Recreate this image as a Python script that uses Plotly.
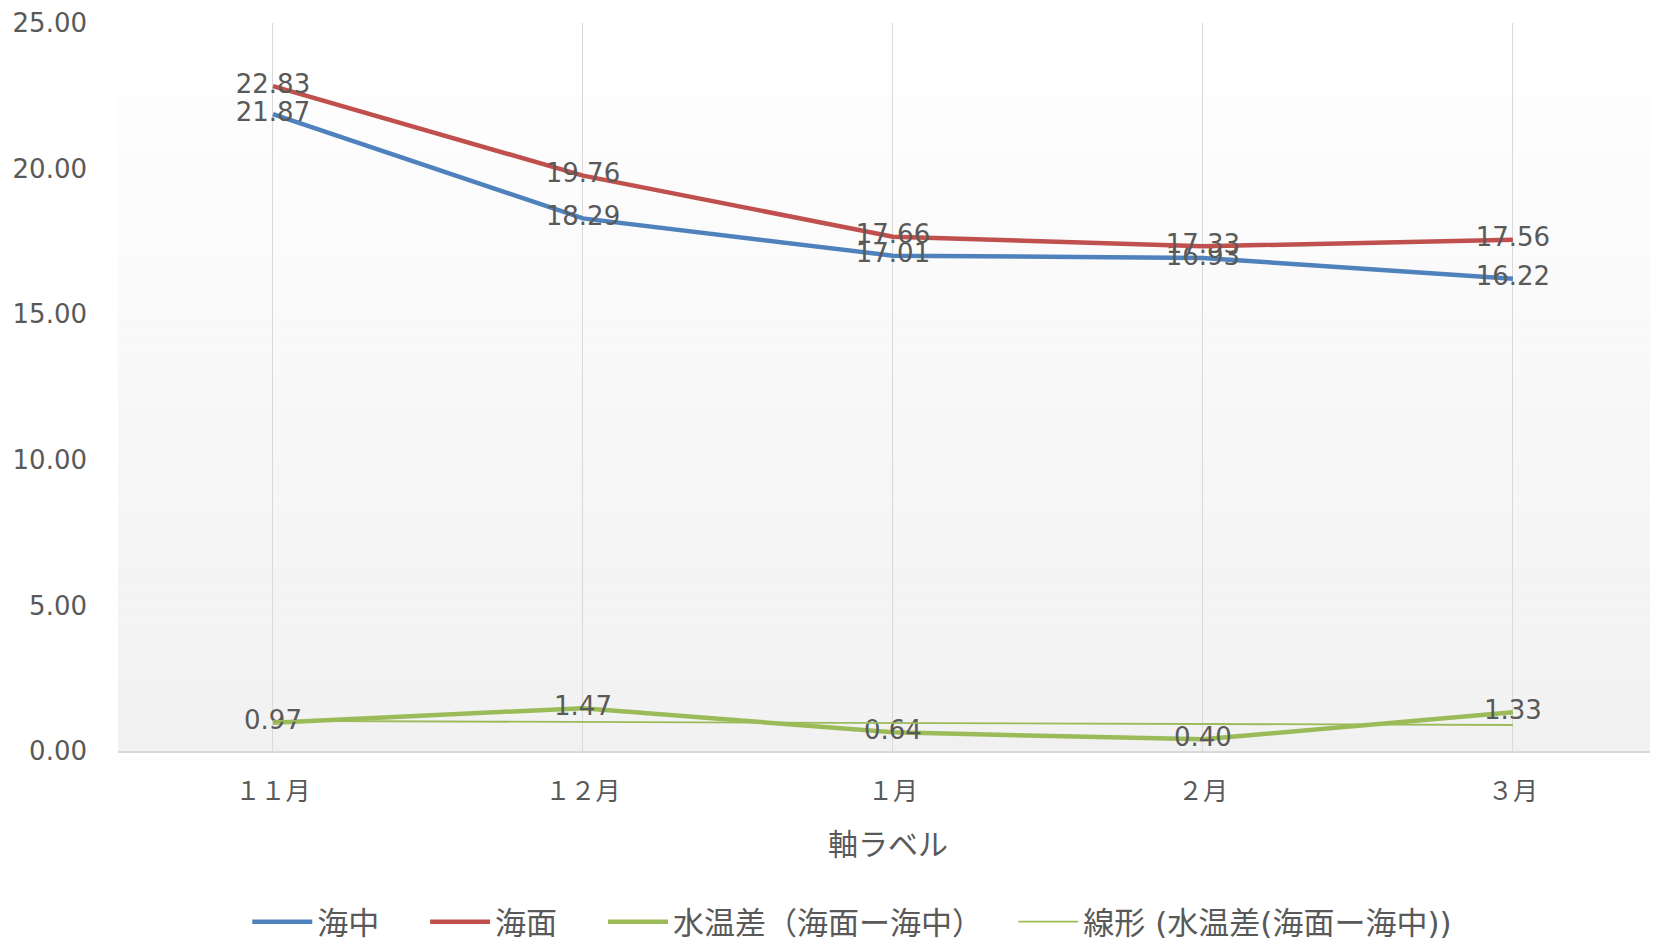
import numpy as np
import plotly.graph_objects as go

categories = ["１１月", "１２月", "１月", "２月", "３月"]
kaichu = [21.87, 18.29, 17.01, 16.93, 16.22]
kaimen = [22.83, 19.76, 17.66, 17.33, 17.56]
diff = [0.97, 1.47, 0.64, 0.40, 1.33]

names = ["海中", "海面", "水温差（海面ー海中）", "線形 (水温差(海面ー海中))"]
colors = ["#4F81BD", "#C0504D", "#9BBB59", "#9BBB59"]

FONT = "DejaVu Sans, Noto Sans CJK JP"
TXT = "#595959"
PAD = "\u3000 "

idx = np.arange(len(categories))
coef = np.polyfit(idx, diff, 1)
trend = np.polyval(coef, idx)

fig = go.Figure()
for name, vals, col in zip(names[:3], [kaichu, kaimen, diff], colors[:3]):
    fig.add_trace(go.Scatter(
        x=categories, y=vals, name=name + PAD, mode="lines+text",
        line=dict(color=col, width=4.5),
        text=[f"{v:.2f}" for v in vals], textposition="middle center",
        textfont=dict(family=FONT, size=26, color=TXT),
        cliponaxis=False,
    ))
fig.add_trace(go.Scatter(
    x=categories, y=trend, name=names[3], mode="lines",
    line=dict(color=colors[3], width=1.8),
))

# gradient background (white -> light gray)
n = 40
for i in range(n):
    t = (i + 0.5) / n
    g = int(round(255 - (255 - 241) * (1 - t)))
    fig.add_shape(type="rect", xref="x domain", yref="y domain",
                  x0=0, x1=1, y0=i / n, y1=(i + 1) / n,
                  fillcolor=f"rgb({g},{g},{g})", line=dict(width=0), layer="below")

W, H = 1650, 932
fig.update_layout(
    width=W, height=H,
    margin=dict(l=110, r=0, t=15, b=189, autoexpand=False),
    paper_bgcolor="white", plot_bgcolor="white",
    font=dict(family=FONT, color=TXT, size=26),
    showlegend=True,
    legend=dict(orientation="h", xref="container", yref="container",
                x=(806 * 1.0574 - 8) / W, xanchor="center", y=1 - 914 / H, yanchor="middle",
                font=dict(family=FONT, size=31, color=TXT),
                itemwidth=60, tracegroupgap=0),
)
fig.update_xaxes(
    range=[-0.5, 4.468], showgrid=True, gridcolor="#d9d9d9", gridwidth=1,
    showline=True, linecolor="#d9d9d9", linewidth=1.5, automargin=False,
    tickfont=dict(family=FONT, size=25, color=TXT), ticklabelstandoff=17,
    title=dict(text="軸ラベル", font=dict(family=FONT, size=30, color=TXT), standoff=29),
    zeroline=False,
)
fig.update_yaxes(
    range=[0, 25], dtick=5, tickformat=".2f", showgrid=False, zeroline=False,
    showline=False, automargin=False, tickfont=dict(family=FONT, size=26, color=TXT),
    ticklabelstandoff=30,
)

fig.write_html("out.html")
